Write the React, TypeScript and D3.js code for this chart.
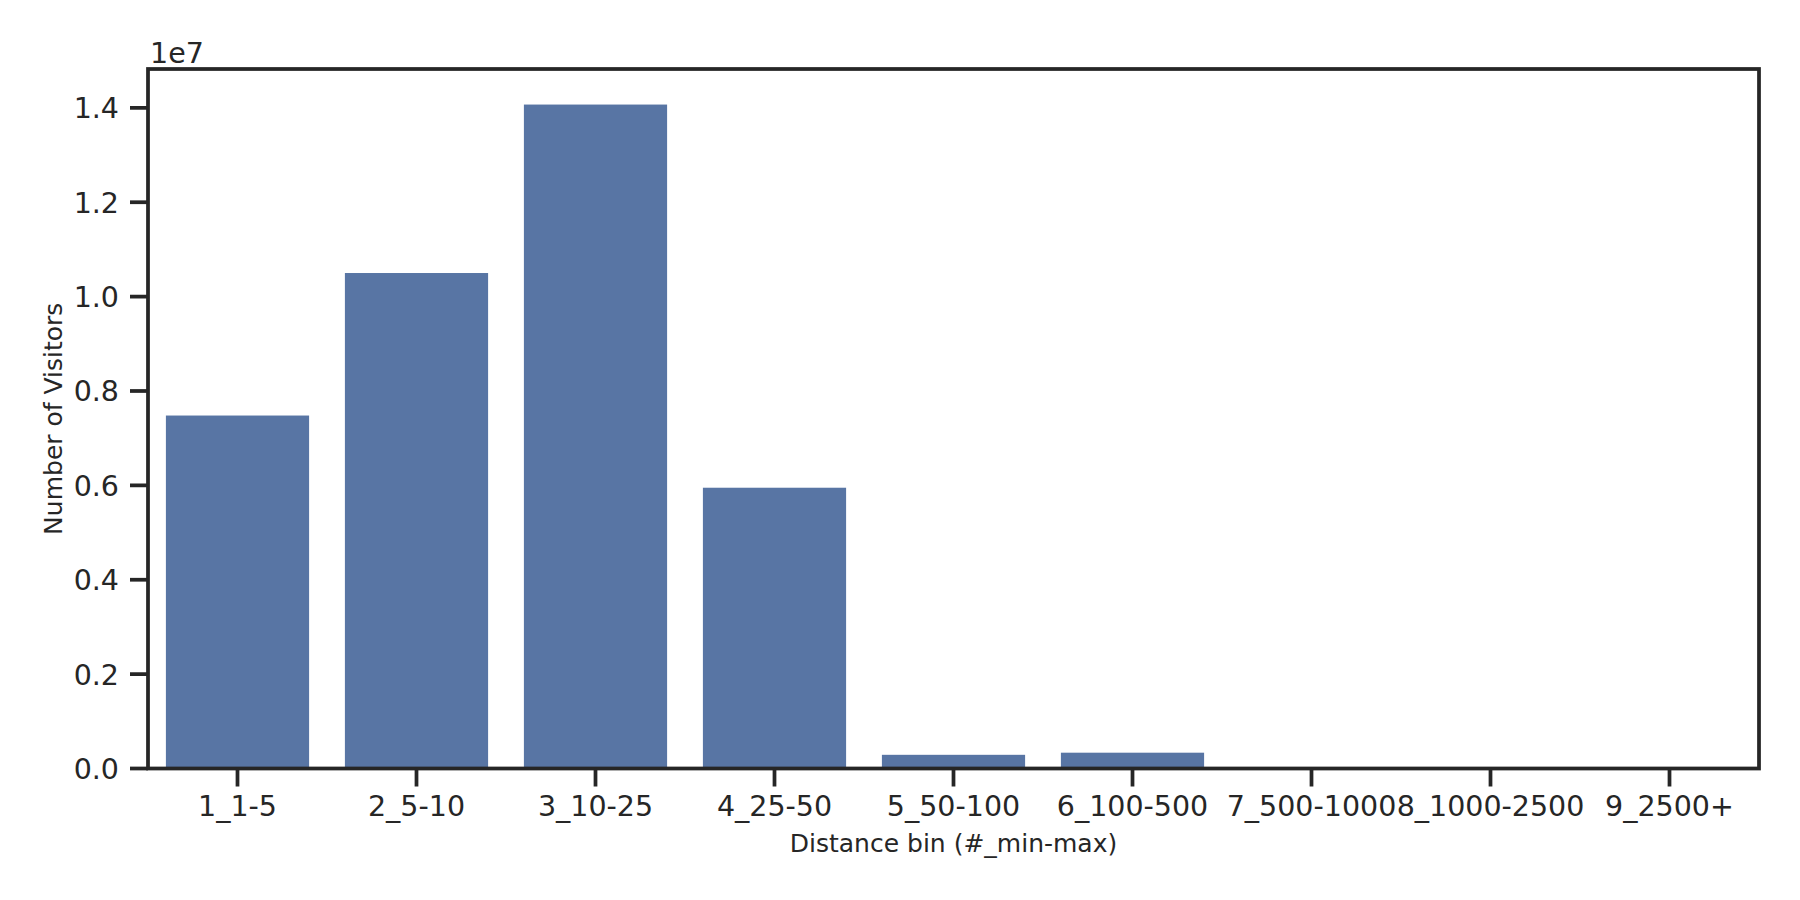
import React from "react";
import * as d3 from "d3";

const categories = ["1_1-5", "2_5-10", "3_10-25", "4_25-50", "5_50-100", "6_100-500", "7_500-1000", "8_1000-2500", "9_2500+"];
const visitors = [7480000, 10500000, 14070000, 5950000, 290000, 335000, 12000, 4000, 1500];
const yTicks = [0, 0.2e7, 0.4e7, 0.6e7, 0.8e7, 1.0e7, 1.2e7, 1.4e7];

const W = 1800;
const H = 900;
const M = { left: 148, right: 1759, top: 69, bottom: 768.5 };
const INK = "#262626";
const BAR = "#5875a4";
const FONT = "'DejaVu Sans', sans-serif";
const LW = 3.75;

export default function App() {
  const x = d3.scaleBand<string>().domain(categories).range([M.left, M.right]).paddingInner(0.2).paddingOuter(0.1);
  const step = x.step();
  const center = (c: string) => M.left + step * (categories.indexOf(c) + 0.5);
  const bw = step * 0.8;
  const ymax = d3.max(visitors)! * 1.05 + 0.005e7;
  const y = d3.scaleLinear().domain([0, ymax]).range([M.bottom, M.top]);

  return (
    <svg width={W} height={H} style={{ position: "absolute", left: 0, top: 0, background: "#fff" }} fontFamily={FONT}>
      <rect x={0} y={0} width={W} height={H} fill="#fff" />
      {categories.map((c, i) => (
        <rect key={c} x={center(c) - bw / 2} width={bw} y={y(visitors[i])} height={M.bottom - y(visitors[i])} fill={BAR} />
      ))}
      {yTicks.map((t) => (
        <g key={t}>
          <line x1={M.left - 18} x2={M.left} y1={y(t)} y2={y(t)} stroke={INK} strokeWidth={LW} />
          <text x={M.left - 29} y={y(t) + 10.5} textAnchor="end" fontSize={28.5} fill={INK}>
            {(t / 1e7).toFixed(1)}
          </text>
        </g>
      ))}
      {categories.map((c) => (
        <g key={c}>
          <line x1={center(c)} x2={center(c)} y1={M.bottom} y2={M.bottom + 18} stroke={INK} strokeWidth={LW} />
          <text x={center(c)} y={816} textAnchor="middle" fontSize={28.5} fill={INK}>
            {c}
          </text>
        </g>
      ))}
      <rect x={M.left} y={M.top} width={M.right - M.left} height={M.bottom - M.top} fill="none" stroke={INK} strokeWidth={LW} />
      <text x={M.left + 2} y={63} fontSize={28.5} fill={INK}>1e7</text>
      <text x={(M.left + M.right) / 2} y={852} textAnchor="middle" fontSize={25} fill={INK}>
        Distance bin (#_min-max)
      </text>
      <text transform={`translate(62, ${(M.top + M.bottom) / 2}) rotate(-90)`} textAnchor="middle" fontSize={25} fill={INK}>
        Number of Visitors
      </text>
    </svg>
  );
}
